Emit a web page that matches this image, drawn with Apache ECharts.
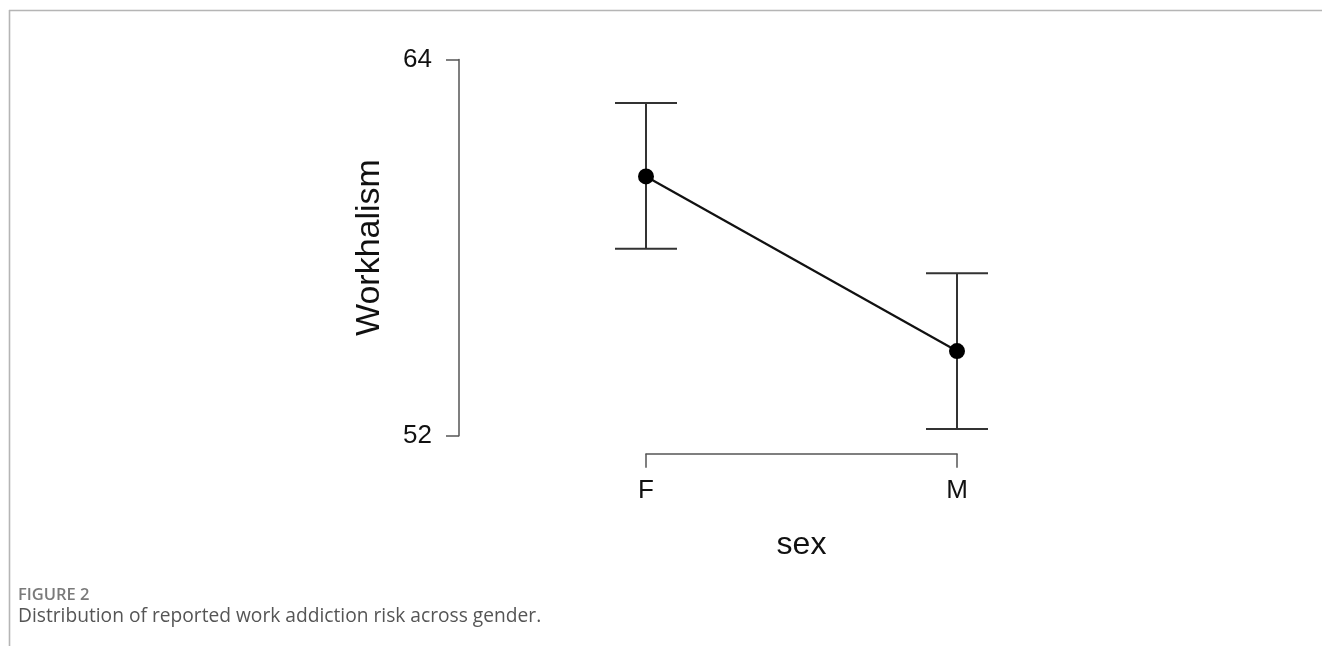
<!DOCTYPE html>
<html>
<head>
<meta charset="utf-8">
<script src="https://cdn.jsdelivr.net/npm/echarts@6/dist/echarts.min.js"></script>
<style>
html,body{margin:0;padding:0;background:#fff;}
#chart{width:1322px;height:646px;}
</style>
</head>
<body>
<div id="chart"></div>
<script>
var categories = ['F', 'M'];
var means = [60.27, 54.70];
var lowerCI = [57.96, 52.21];
var upperCI = [62.61, 57.18];
var yTicks = [52, 64];
var yName = 'Workhalism';
var xName = 'sex';
var figLabel = 'FIGURE 2';
var caption = 'Distribution of reported work addiction risk across gender.';

var chart = echarts.init(document.getElementById('chart'));

var lineData = means.map(function (v, i) { return [i, v]; });
var errData = means.map(function (v, i) { return [i, lowerCI[i], upperCI[i]]; });

var option = {
  animation: false,
  backgroundColor: '#fff',
  grid: { left: 646, width: 311, top: 59.5, height: 376.2 },
  xAxis: {
    type: 'value', min: 0, max: categories.length - 1, interval: 1,
    offset: 18,
    axisLine: { show: true, onZero: false, lineStyle: { color: '#555', width: 1.5 } },
    axisTick: { show: true, inside: false, length: 14, lineStyle: { color: '#555', width: 1.5 } },
    axisLabel: {
      margin: 24, fontSize: 26, color: '#111', fontFamily: 'Liberation Sans, Arial, sans-serif',
      formatter: function (v) { return categories[Math.round(v)] || ''; }
    },
    splitLine: { show: false },
    name: xName, nameLocation: 'middle', nameGap: 75,
    nameTextStyle: { fontSize: 32, color: '#111', fontFamily: 'Liberation Sans, Arial, sans-serif' }
  },
  yAxis: {
    type: 'value', min: yTicks[0], max: yTicks[yTicks.length - 1],
    interval: yTicks[1] - yTicks[0],
    offset: 187,
    axisLine: { show: true, onZero: false, lineStyle: { color: '#555', width: 1.5 } },
    axisTick: { show: true, inside: false, length: 13, lineStyle: { color: '#555', width: 1.5 } },
    axisLabel: {
      margin: 27, fontSize: 26, color: '#111', fontFamily: 'Liberation Sans, Arial, sans-serif'
    },
    splitLine: { show: false },
    name: yName, nameLocation: 'middle', nameGap: 72, nameRotate: 90,
    nameTextStyle: { fontSize: 34, color: '#111', fontFamily: 'Liberation Sans, Arial, sans-serif' }
  },
  series: [
    {
      type: 'custom',
      clip: false,
      data: errData,
      renderItem: function (params, api) {
        var x = api.value(0);
        var lo = api.coord([x, api.value(1)]);
        var hi = api.coord([x, api.value(2)]);
        var hw = 31;
        var st = { stroke: '#333', lineWidth: 2 };
        return {
          type: 'group',
          children: [
            { type: 'line', shape: { x1: lo[0], y1: lo[1], x2: hi[0], y2: hi[1] }, style: st },
            { type: 'line', shape: { x1: lo[0] - hw, y1: lo[1], x2: lo[0] + hw, y2: lo[1] }, style: st },
            { type: 'line', shape: { x1: hi[0] - hw, y1: hi[1], x2: hi[0] + hw, y2: hi[1] }, style: st }
          ]
        };
      },
      z: 2
    },
    {
      type: 'line',
      clip: false,
      data: lineData,
      symbol: 'circle',
      symbolSize: 16,
      lineStyle: { color: '#111', width: 2.2 },
      itemStyle: { color: '#000' },
      z: 3
    }
  ],
  graphic: [
    { type: 'line', shape: { x1: 9, y1: 10.5, x2: 1322, y2: 10.5 }, style: { stroke: '#b5b5b5', lineWidth: 1.6 } },
    { type: 'line', shape: { x1: 9.5, y1: 10, x2: 9.5, y2: 646 }, style: { stroke: '#b5b5b5', lineWidth: 1.6 } },
    { type: 'text', left: 18, top: 587, style: { text: figLabel, fontSize: 16.5, fontWeight: 600, fill: '#7a7a7a', fontFamily: 'Open Sans, sans-serif' } },
    { type: 'text', left: 18, top: 607, style: { text: caption, fontSize: 19.2, fill: '#555', fontFamily: 'Open Sans, sans-serif' } }
  ]
};
chart.setOption(option);
</script>
</body>
</html>
